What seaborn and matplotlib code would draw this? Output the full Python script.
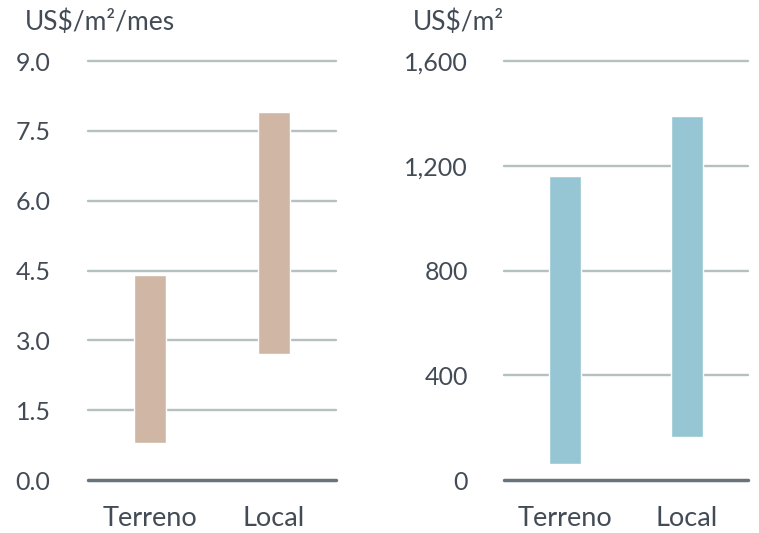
import matplotlib
matplotlib.use("Agg")
import matplotlib.pyplot as plt
import seaborn as sns
import pandas as pd
from matplotlib.ticker import FuncFormatter

categories = ["Terreno", "Local"]
rent_low = [0.8, 2.7]
rent_high = [4.4, 7.9]
price_low = [60, 165]
price_high = [1160, 1390]
rent_ticks = [0.0, 1.5, 3.0, 4.5, 6.0, 7.5, 9.0]
price_ticks = [0, 400, 800, 1200, 1600]

sns.set_theme(style="white")
plt.rcParams["font.family"] = ["Lato", "DejaVu Sans"]

text_color = "#434c56"
grid_color = "#b5c0c0"
base_color = "#69747a"

fig = plt.figure(figsize=(7.59, 5.33), dpi=100)
W, H = 759, 533
ax1 = fig.add_axes([88 / W, (H - 480) / H, 248 / W, 419 / H])
ax2 = fig.add_axes([504 / W, (H - 480) / H, 244 / W, 419 / H])

def panel(ax, lows, highs, color, ticks, fmt, unit, ux, pad):
    df = pd.DataFrame({"cat": categories, "span": [h - l for l, h in zip(lows, highs)]})
    sns.barplot(data=df, x="cat", y="span", ax=ax, color=color, saturation=1,
                width=0.26, bottom=lows, zorder=3)
    ax.set_ylim(ticks[0], ticks[-1])
    ax.set_xlim(-0.5, 1.5)
    ax.set_yticks(ticks)
    ax.yaxis.set_major_formatter(FuncFormatter(fmt))
    for t in ticks[1:]:
        ax.axhline(t, color=grid_color, lw=1.7, zorder=1, clip_on=False)
    ax.axhline(0, color=base_color, lw=2.5, zorder=4, clip_on=False)
    for s in ax.spines.values():
        s.set_visible(False)
    ax.set_xlabel("")
    ax.set_ylabel("")
    ax.tick_params(axis="y", length=0, pad=pad, labelsize=18, labelcolor=text_color)
    ax.tick_params(axis="x", length=0, pad=19, labelsize=19.5, labelcolor=text_color)
    fig.text(ux / W, 1 - 22 / H, unit, fontsize=19, color=text_color,
             ha="left", va="center")

panel(ax1, rent_low, rent_high, "#d0b7a5", rent_ticks,
      lambda v, p: f"{v:.1f}", "US$/m²/mes", 25, 27)
panel(ax2, price_low, price_high, "#96c5d4", price_ticks,
      lambda v, p: f"{v:,.0f}", "US$/m²", 413, 26)

fig.savefig("out.png", dpi=100)
